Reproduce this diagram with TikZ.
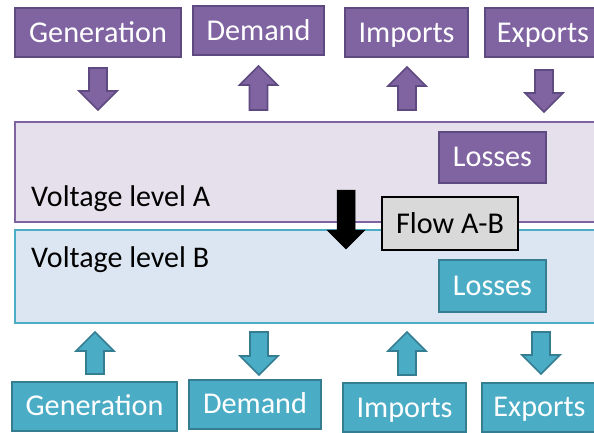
\documentclass[tikz,border=0pt]{standalone}
\usepackage{fontspec}
\setmainfont{Carlito}
\usetikzlibrary{calc}
\definecolor{plum}{HTML}{8064A2}
\definecolor{plumdark}{HTML}{5E4980}
\definecolor{plumpale}{HTML}{E6E0EC}
\definecolor{aqua}{HTML}{4BACC6}
\definecolor{aquadark}{HTML}{357D91}
\definecolor{aquapale}{HTML}{DCE6F2}
\definecolor{flowgray}{HTML}{D9D9D9}
\tikzset{
  box/.style={draw, line width=2pt, inner sep=0pt, text=white,
    minimum height=49pt, text height=19.4pt, text depth=0pt,
    font=\fontsize{30.2}{35}\selectfont},
  purplebox/.style={box, fill=plum, draw=plumdark},
  tealbox/.style={box, fill=aqua, draw=aquadark},
  purplearrow/.style={fill=plum, draw=plumdark, line width=1.6pt, line join=miter},
  tealarrow/.style={fill=aqua, draw=aquadark, line width=1.6pt, line join=miter},
  label/.style={inner sep=0pt, anchor=base west, font=\fontsize{30}{35}\selectfont}
}
% block arrow from #2 to tip #3, shaft 18pt wide, head 38pt wide and 19pt long
\def\fatarrow[#1](#2)(#3){
  \coordinate (hd) at ($(#3)!19pt!(#2)$);
  \draw[#1] ($(#2)!9pt!90:(#3)$) -- ($(hd)!9pt!-90:(#2)$) -- ($(hd)!19pt!-90:(#2)$) -- (#3)
    -- ($(hd)!19pt!90:(#2)$) -- ($(hd)!9pt!90:(#2)$) -- ($(#2)!9pt!-90:(#3)$) -- cycle;
}

\begin{document}
\begin{tikzpicture}[x=1pt, y=-1pt]
			\useasboundingbox (0,0) rectangle (594,432);
			\clip (0,0) rectangle (594,432);
			
			%%%%% VOLTAGE LEVELS %%%%%
			\draw[fill=plumpale, draw=plum, line width=2pt] (15, 121.5) rectangle (640, 221.5);
			\draw[fill=aquapale, draw=aqua, line width=2pt] (15, 229.5) rectangle (640, 322.5);
			\node[label] (levelA) at (31, 206.5) {Voltage level A};
			\node[label] (levelB) at (31, 267) {Voltage level B};
			
			\node[purplebox, minimum width=107pt, minimum height=51pt] (lossA) at (492.5, 157) {Losses};
			\node[tealbox, minimum width=107pt, minimum height=52pt] (lossB) at (492.5, 286) {Losses};
			
			%%%%% FLOW %%%%%
			\coordinate (flowtop) at (346, 190);
			\coordinate (flowtip) at (346, 249);
			\fatarrow[fill=black, draw=black, line width=0.5pt, line join=miter](flowtop)(flowtip)
			\node[box, fill=flowgray, draw=black, text=black, minimum width=136pt, minimum height=53pt] (flow) at (450, 223.5) {Flow A-B};
			
			%%%%% TOP %%%%%
			\node[purplebox, minimum width=166pt] (genA) at (98, 32.5) {Generation};
			\node[purplebox, minimum width=131pt] (demA) at (258.5, 30.5) {Demand};
			\node[purplebox, minimum width=123pt] (impA) at (406.5, 32.5) {Imports};
			\node[purplebox, minimum width=116pt] (expA) at (543, 32.5) {Exports};
			
			\coordinate (genA1) at (98, 68);    \coordinate (genA2) at (98, 110);
			\coordinate (demA1) at (258.5, 110); \coordinate (demA2) at (258.5, 66);
			\coordinate (impA1) at (407, 110);  \coordinate (impA2) at (407, 67);
			\coordinate (expA1) at (544, 70);   \coordinate (expA2) at (544, 112);
			\fatarrow[purplearrow](genA1)(genA2)
			\fatarrow[purplearrow](demA1)(demA2)
			\fatarrow[purplearrow](impA1)(impA2)
			\fatarrow[purplearrow](expA1)(expA2)
			
			%%%%% BOTTOM %%%%%
			\node[tealbox, minimum width=165pt] (genB) at (94.5, 406) {Generation};
			\node[tealbox, minimum width=132pt] (demB) at (255, 404) {Demand};
			\node[tealbox, minimum width=123pt] (impB) at (404.5, 407.5) {Imports};
			\node[tealbox, minimum width=116pt] (expB) at (539.5, 407) {Exports};
			
			\coordinate (genB1) at (95, 374);   \coordinate (genB2) at (95, 332);
			\coordinate (demB1) at (259, 332);  \coordinate (demB2) at (259, 375);
			\coordinate (impB1) at (407, 375);  \coordinate (impB2) at (407, 332);
			\coordinate (expB1) at (541, 332);  \coordinate (expB2) at (541, 374);
			\fatarrow[tealarrow](genB1)(genB2)
			\fatarrow[tealarrow](demB1)(demB2)
			\fatarrow[tealarrow](impB1)(impB2)
			\fatarrow[tealarrow](expB1)(expB2)
\end{tikzpicture}
\end{document}
